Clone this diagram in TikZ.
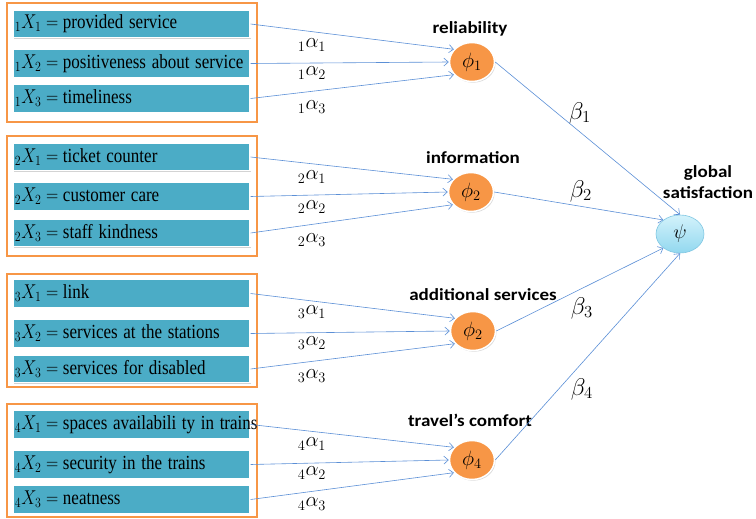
\RequirePackage{fix-cm}
\documentclass[tikz,border=0pt]{standalone}
\usepackage{graphicx}
\usepackage{fontspec}
\setmainfont{Liberation Serif}
\newfontfamily\labfont[FakeStretch=1.12]{Carlito}
\usetikzlibrary{arrows.meta,shapes.geometric,shadows}
\definecolor{boxteal}{HTML}{4BACC6}
\definecolor{frameorange}{HTML}{F79646}
\definecolor{circorange}{HTML}{F79646}
\definecolor{arrowblue}{HTML}{5B8FD6}
\definecolor{psitop}{HTML}{D3F2FB}
\definecolor{psibot}{HTML}{92D8EF}
\definecolor{psiedge}{HTML}{7FC6E2}
\newcommand{\bxt}[1]{\scalebox{0.85}[1]{#1}}
\newcommand{\mscale}[2]{\scalebox{#1}{#2}}
\tikzset{
  xbox/.style={rectangle, fill=boxteal, draw=white, line width=1.2pt,
    minimum width=237pt, minimum height=27.5pt, inner xsep=2pt, inner ysep=0pt,
    text width=233pt, align=left,
    drop shadow={opacity=0.35, shadow xshift=1pt, shadow yshift=-1.2pt},
    font=\fontsize{20}{22}\selectfont},
  gframe/.style={draw=frameorange, line width=1.6pt},
  phinode/.style={ellipse, fill=circorange, draw=white, line width=1.5pt,
    minimum width=45pt, minimum height=39pt, inner sep=0pt,
    drop shadow={opacity=0.3, shadow xshift=1pt, shadow yshift=-1.2pt},
    font=\fontsize{17.28}{20}\selectfont},
  psinode/.style={ellipse, top color=psitop, bottom color=psibot, draw=psiedge,
    line width=0.6pt, minimum width=48pt, minimum height=38pt, inner sep=0pt,
    font=\fontsize{17.28}{20}\selectfont},
  lab/.style={font=\labfont\bfseries\fontsize{17}{21}\selectfont, inner sep=0pt},
  alab/.style={font=\fontsize{17.28}{20}\selectfont, inner sep=0pt},
  blab/.style={font=\fontsize{17.28}{20}\selectfont, inner sep=0pt},
  conn/.style={draw=arrowblue, line width=0.6pt, -{Straight Barb[length=4.5pt,width=8pt]}},
}
\begin{document}
\begin{tikzpicture}[x=1pt,y=-1pt]
\useasboundingbox (0,0) rectangle (756,519);
% group frames
\draw[gframe] (7,3) rectangle (257,122);
\draw[gframe] (7,136) rectangle (257,256);
\draw[gframe] (7,274) rectangle (257,387);
\draw[gframe] (7,404) rectangle (257,517);
% boxes
\node[xbox] (b11) at (131.5,24)   {\bxt{${}_{1}X_{1}={}$provided service}};
\node[xbox] (b12) at (131.5,63.5) {\bxt{${}_{1}X_{2}={}$positiveness about service}};
\node[xbox] (b13) at (131.5,98.5) {\bxt{${}_{1}X_{3}={}$timeliness}};
\node[xbox] (b21) at (131.5,157)   {\bxt{${}_{2}X_{1}={}$ticket counter}};
\node[xbox] (b22) at (131.5,196.5) {\bxt{${}_{2}X_{2}={}$customer care}};
\node[xbox] (b23) at (131.5,233)   {\bxt{${}_{2}X_{3}={}$staff kindness}};
\node[xbox] (b31) at (131.5,293.5) {\bxt{${}_{3}X_{1}={}$link}};
\node[xbox] (b32) at (131.5,333.5) {\bxt{${}_{3}X_{2}={}$services at the stations}};
\node[xbox] (b33) at (131.5,369)   {\bxt{${}_{3}X_{3}={}$services for disabled}};
\node[xbox] (b41) at (131.5,424.5) {\bxt{${}_{4}X_{1}={}$spaces availabili ty in trains}};
\node[xbox] (b42) at (131.5,464.5) {\bxt{${}_{4}X_{2}={}$security in the trains}};
\node[xbox] (b43) at (131.5,499.5) {\bxt{${}_{4}X_{3}={}$neatness}};
% latent nodes
\node[phinode] (p1) at (472,62)  {\mscale{1.2}{$\phi_1$}};
\node[phinode] (p2) at (471,192) {\mscale{1.2}{$\phi_2$}};
\node[phinode] (p3) at (473,331) {\mscale{1.2}{$\phi_2$}};
\node[phinode] (p4) at (472,460) {\mscale{1.2}{$\phi_4$}};
\node[psinode] (psi) at (680,234) {\mscale{1.15}{$\psi$}};
% titles
\node[lab] (l1) at (470,29)  {reliability};
\node[lab] (l2) at (473,158) {information};
\node[lab] (l3) at (483,295) {additional services};
\node[lab] (l4) at (470,420) {travel’s comfort};
\node[lab, align=center] (l5) at (708,182) {global\\satisfaction};
% alpha labels
\node[alab] (a11) at (312,45)  {\mscale{1.2}{${}_{1}\alpha_{1}$}};
\node[alab] (a12) at (312,73)  {\mscale{1.2}{${}_{1}\alpha_{2}$}};
\node[alab] (a13) at (312,107) {\mscale{1.2}{${}_{1}\alpha_{3}$}};
\node[alab] (a21) at (312,177) {\mscale{1.2}{${}_{2}\alpha_{1}$}};
\node[alab] (a22) at (312,207) {\mscale{1.2}{${}_{2}\alpha_{2}$}};
\node[alab] (a23) at (312,240) {\mscale{1.2}{${}_{2}\alpha_{3}$}};
\node[alab] (a31) at (312,312) {\mscale{1.2}{${}_{3}\alpha_{1}$}};
\node[alab] (a32) at (312,343) {\mscale{1.2}{${}_{3}\alpha_{2}$}};
\node[alab] (a33) at (312,376) {\mscale{1.2}{${}_{3}\alpha_{3}$}};
\node[alab] (a41) at (312,444) {\mscale{1.2}{${}_{4}\alpha_{1}$}};
\node[alab] (a42) at (312,473) {\mscale{1.2}{${}_{4}\alpha_{2}$}};
\node[alab] (a43) at (312,504) {\mscale{1.2}{${}_{4}\alpha_{3}$}};
% beta labels
\node[blab] (be1) at (580,113) {\mscale{1.4}{$\beta_1$}};
\node[blab] (be2) at (581,191) {\mscale{1.4}{$\beta_2$}};
\node[blab] (be3) at (582,308) {\mscale{1.4}{$\beta_3$}};
\node[blab] (be4) at (582,389) {\mscale{1.4}{$\beta_4$}};
% connectors
\draw[conn] (b11.east) -- (p1.145);
\draw[conn] (b12.east) -- (p1.180);
\draw[conn] (b13.east) -- (p1.215);
\draw[conn] (b21.east) -- (p2.145);
\draw[conn] (b22.east) -- (p2.180);
\draw[conn] (b23.east) -- (p2.215);
\draw[conn] (b31.east) -- (p3.145);
\draw[conn] (b32.east) -- (p3.180);
\draw[conn] (b33.east) -- (p3.215);
\draw[conn] (b41.east) -- (p4.145);
\draw[conn] (b42.east) -- (p4.180);
\draw[conn] (b43.east) -- (p4.215);
\draw[conn] (p1.east) -- (psi.north);
\draw[conn] (p2.east) -- (psi.140);
\draw[conn] (p3.east) -- (psi.220);
\draw[conn] (p4.east) -- (psi.south);
\end{tikzpicture}
\end{document}
